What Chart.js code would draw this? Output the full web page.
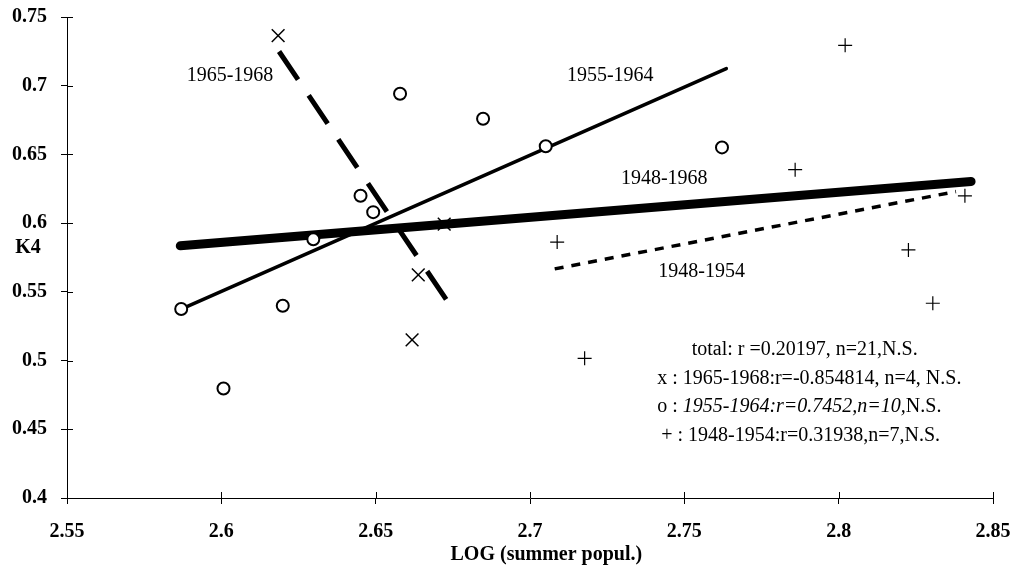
<!DOCTYPE html>
<html>
<head>
<meta charset="utf-8">
<script src="https://cdn.jsdelivr.net/npm/chart.js@4/dist/chart.umd.min.js"></script>
<style>
  html, body { margin: 0; padding: 0; background: #fff; }
</style>
</head>
<body>
<canvas id="grafico" width="1018" height="565"></canvas>
<script>
// ---------- DADOS ----------
// o : 1955-1964
const x1955 = [2.587, 2.6007, 2.6199, 2.6298, 2.6451, 2.6492, 2.6579, 2.6848, 2.7051, 2.7622];
const y1955 = [0.5375, 0.4797, 0.5399, 0.5883, 0.6199, 0.608, 0.6942, 0.676, 0.6559, 0.6551];

// x : 1965-1968
const x1965 = [2.6184, 2.6618, 2.6638, 2.6722];
const y1965 = [0.7365, 0.515, 0.5623, 0.5993];

// + : 1948-1954
const x1948 = [2.7088, 2.7177, 2.7859, 2.8021, 2.8226, 2.8305, 2.8409];
const y1948 = [0.5862, 0.5016, 0.6389, 0.7294, 0.5805, 0.5417, 0.6199];

// regression lines (end points)
const lineTotalX = [2.5867, 2.8429];
const lineTotalY = [0.5835, 0.6303];
const line1955X = [2.587, 2.7636];
const line1955Y = [0.5375, 0.7125];
const line1965X = [2.6187, 2.6734];
const line1965Y = [0.7249, 0.5426];
const line1948X = [2.708, 2.838];
const line1948Y = [0.5667, 0.623];

// ticks
const xTicks = [2.55, 2.6, 2.65, 2.7, 2.75, 2.8, 2.85];
const xTickLabels = ["2.55", "2.6", "2.65", "2.7", "2.75", "2.8", "2.85"];
const yTicks = [0.4, 0.45, 0.5, 0.55, 0.6, 0.65, 0.7, 0.75];
const yTickLabels = ["0.4", "0.45", "0.5", "0.55", "0.6", "0.65", "0.7", "0.75"];

// line labels
const lineLabels = ["1965-1968", "1955-1964", "1948-1968", "1948-1954"];
const lineLabelX = [2.6028, 2.726, 2.7435, 2.7556];
const lineLabelY = [0.7074, 0.7074, 0.6323, 0.5645];

// stats block
const statPrefix = ["", "x : ", "o : ", "+ : "];
const statBody = ["total: r =0.20197, n=21,N.S.", "1965-1968:r=-0.854814, n=4, N.S.", "1955-1964:r=0.7452,n=10,", "1948-1954:r=0.31938,n=7,N.S."];
const statTail = ["", "", "N.S.", ""];
const statItalic = [false, false, true, false];
const statX = [2.7524, 2.7412, 2.7412, 2.7425];
const statY = [0.5077, 0.4866, 0.4662, 0.4451];

const xTitle = "LOG (summer popul.)";
const yTitle = "K4";

const FONTE = "'Liberation Serif', 'Times New Roman', serif";

const pts = (xs, ys) => xs.map((x, i) => ({ x: x, y: ys[i] }));

// ---------- PLUGIN: ticks internos e textos ----------
const extras = {
  id: "extras",
  afterDatasetsDraw(chart) {
    const ctx = chart.ctx;
    const xs = chart.scales.x;
    const ys = chart.scales.y;
    const area = chart.chartArea;
    ctx.save();
    ctx.strokeStyle = "#000";
    ctx.lineWidth = 1;
    // inner half of tick marks
    ctx.beginPath();
    xTicks.forEach(v => {
      const px = Math.round(xs.getPixelForValue(v)) + 0.5;
      ctx.moveTo(px, area.bottom);
      ctx.lineTo(px, area.bottom - 6);
    });
    yTicks.forEach(v => {
      const py = Math.round(ys.getPixelForValue(v)) + 0.5;
      ctx.moveTo(area.left, py);
      ctx.lineTo(area.left + 6, py);
    });
    ctx.stroke();

    ctx.fillStyle = "#000";
    ctx.textBaseline = "middle";

    // line labels
    ctx.font = "20px " + FONTE;
    ctx.textAlign = "center";
    lineLabels.forEach((t, i) => {
      ctx.fillText(t, xs.getPixelForValue(lineLabelX[i]), ys.getPixelForValue(lineLabelY[i]));
    });

    // stats text
    ctx.textAlign = "left";
    statBody.forEach((t, i) => {
      let px = xs.getPixelForValue(statX[i]);
      const py = ys.getPixelForValue(statY[i]);
      ctx.font = "20px " + FONTE;
      ctx.fillText(statPrefix[i], px, py);
      px += ctx.measureText(statPrefix[i]).width;
      ctx.font = (statItalic[i] ? "italic " : "") + "20px " + FONTE;
      ctx.fillText(t, px, py);
      px += ctx.measureText(t).width;
      ctx.font = "20px " + FONTE;
      ctx.fillText(statTail[i], px, py);
    });

    // axis titles
    ctx.font = "bold 20px " + FONTE;
    ctx.textAlign = "center";
    ctx.fillText(xTitle, xs.getPixelForValue(2.7053), area.bottom + 57);
    ctx.fillText(yTitle, area.left - 39, ys.getPixelForValue(0.582));
    ctx.restore();
  }
};

// ---------- GRÁFICO ----------
const eixo = (ticksArr, labelsArr, extra) => Object.assign({
  type: "linear",
  min: ticksArr[0],
  max: ticksArr[ticksArr.length - 1],
  afterBuildTicks: scale => { scale.ticks = ticksArr.map(v => ({ value: v })); },
  grid: { display: true, drawOnChartArea: false, drawTicks: true, tickLength: 6, color: "#000", lineWidth: 1 },
  border: { display: true, color: "#000", width: 1 }
}, extra);

const fonteTick = { family: FONTE, size: 20, weight: "bold" };

new Chart(document.getElementById("grafico").getContext("2d"), {
  type: "scatter",
  data: {
    datasets: [
      {
        label: "o : 1955-1964",
        data: pts(x1955, y1955),
        pointStyle: "circle",
        pointRadius: 6,
        borderWidth: 2,
        borderColor: "#000",
        backgroundColor: "#fff",
        order: 0
      },
      {
        label: "x : 1965-1968",
        data: pts(x1965, y1965),
        pointStyle: "crossRot",
        pointRadius: 9,
        borderWidth: 1.5,
        borderColor: "#000",
        order: 0
      },
      {
        label: "+ : 1948-1954",
        data: pts(x1948, y1948),
        pointStyle: "cross",
        pointRadius: 7,
        borderWidth: 1.2,
        borderColor: "#000",
        order: 0
      },
      {
        label: "1948-1968",
        data: pts(lineTotalX, lineTotalY),
        showLine: true,
        pointRadius: 0,
        borderWidth: 9,
        borderColor: "#000",
        borderCapStyle: "round",
        order: 1
      },
      {
        label: "1955-1964",
        data: pts(line1955X, line1955Y),
        showLine: true,
        pointRadius: 0,
        borderWidth: 3.5,
        borderColor: "#000",
        borderCapStyle: "round",
        order: 1
      },
      {
        label: "1965-1968",
        data: pts(line1965X, line1965Y),
        showLine: true,
        pointRadius: 0,
        borderWidth: 5,
        borderColor: "#000",
        borderDash: [34, 19],
        order: 1
      },
      {
        label: "1948-1954",
        data: pts(line1948X, line1948Y),
        showLine: true,
        pointRadius: 0,
        borderWidth: 3.5,
        borderColor: "#000",
        borderDash: [9, 8],
        order: 1
      }
    ]
  },
  options: {
    responsive: false,
    animation: false,
    layout: { padding: { top: 17, right: 25, left: 0, bottom: 0 } },
    plugins: {
      legend: { display: false },
      tooltip: { enabled: false }
    },
    scales: {
      x: eixo(xTicks, xTickLabels, {
        position: "bottom",
        afterFit: scale => { scale.height = 67; scale.paddingLeft = 0; scale.paddingRight = 0; },
        ticks: { color: "#000", font: fonteTick, maxRotation: 0, autoSkip: false, padding: 16, callback: (v, i) => xTickLabels[i] }
      }),
      y: eixo(yTicks, yTickLabels, {
        position: "left",
        afterFit: scale => { scale.width = 67; scale.paddingTop = 0; scale.paddingBottom = 0; },
        ticks: { color: "#000", font: fonteTick, autoSkip: false, padding: 14, callback: (v, i) => yTickLabels[i] }
      })
    }
  },
  plugins: [extras]
});
</script>
</body>
</html>
